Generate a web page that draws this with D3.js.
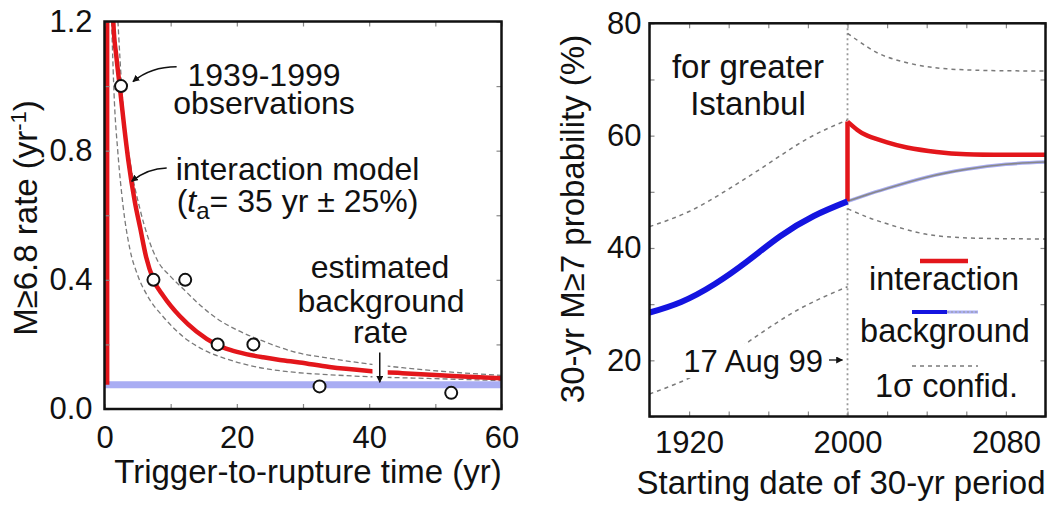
<!DOCTYPE html>
<html><head><meta charset="utf-8">
<script src="https://cdn.jsdelivr.net/npm/d3@7"></script>
<style>
body{margin:0;background:#fff;}
svg{display:block;font-family:"Liberation Sans",Arial,Helvetica,sans-serif;}
</style></head><body>
<svg id="chart" width="1054" height="505"></svg>
<script>
// ---------- Left panel data ----------
const obsT    = [2.5, 7.4, 12.2, 17.1, 22.5, 32.5, 52.4];
const obsRate = [1.0, 0.4, 0.4, 0.2, 0.2, 0.07, 0.05];

const modelT    = [1.2, 1.33, 1.8, 2.3, 3.0, 3.6, 4.6, 5.4, 6.3, 7.4, 8.9, 11.4, 13.9, 16.9, 19, 21.4, 24, 26.5, 29.5, 34, 40, 45, 50, 55, 60];
const modelRate = [1.27, 1.2, 1.09, 1.0, 0.87, 0.77, 0.64, 0.56, 0.47, 0.40, 0.35, 0.287, 0.24, 0.20, 0.183, 0.17, 0.16, 0.152, 0.144, 0.13, 0.118, 0.111, 0.105, 0.1, 0.095];
const jumpT    = [0.4, 0.4];
const jumpRate = [0.075, 1.3];

const upperT    = [1.9, 2.8, 4, 5.35, 6.6, 8, 10, 12, 14, 17, 20, 24, 29, 34, 39, 45, 52, 60];
const upperRate = [1.25, 0.94, 0.75, 0.62, 0.53, 0.46, 0.41, 0.37, 0.33, 0.28, 0.245, 0.21, 0.175, 0.157, 0.142, 0.128, 0.115, 0.104];
const lowerT    = [1.0, 1.5, 2.0, 2.8, 3.85, 5, 6.5, 8.9, 12, 15, 18.9, 23, 29, 35, 40, 50, 60];
const lowerRate = [1.25, 0.95, 0.8, 0.63, 0.494, 0.415, 0.35, 0.285, 0.222, 0.183, 0.152, 0.13, 0.113, 0.105, 0.1, 0.094, 0.088];

const bgT    = [0, 60];
const bgRate = [0.075, 0.075];

const leftXTicks = [0, 10, 20, 30, 40, 50, 60];
const leftXLabels = [0, 20, 40, 60];
const leftYTicks = [0, 0.2, 0.4, 0.6, 0.8, 1.0, 1.2];
const leftYLabels = [0, 0.4, 0.8, 1.2];

// ---------- Right panel data ----------
const bgYearsA = [1900, 1916, 1933, 1950, 1966, 1983, 2000];
const bgProbA  = [28.5, 30.4, 33.6, 37.8, 42.1, 45.7, 48.3];
const bgYearsB = [2000, 2010, 2020, 2040, 2060, 2080, 2100];
const bgProbB  = [48.3, 49.5, 50.6, 52.6, 54.0, 54.9, 55.3];

const interJumpYears = [2000, 2000];
const interJumpProb  = [48.3, 62.5];
const interYears = [2000, 2005, 2010, 2020, 2030, 2045, 2060, 2080, 2100];
const interProb  = [62.5, 61.0, 60.0, 58.8, 57.9, 57.1, 56.7, 56.6, 56.6];

const confUpYearsA = [1900, 1920, 1940, 1960, 1980, 2000];
const confUpProbA  = [43.8, 46.5, 50.5, 55.0, 59.5, 62.8];
const confLoYearsA = [1900, 1925, 1950, 1975, 2000];
const confLoProbA  = [14.0, 17.7, 23.3, 29.0, 33.1];
const confUpYearsB = [2000, 2010, 2020, 2035, 2050, 2070, 2100];
const confUpProbB  = [78.2, 75.8, 74.0, 72.6, 71.9, 71.6, 71.5];
const confLoYearsB = [2000, 2010, 2020, 2035, 2050, 2070, 2100];
const confLoProbB  = [47.0, 45.5, 44.3, 42.8, 42.0, 41.7, 41.6];

const quakeYear = 2000;

const rightXTicks = [1900, 1920, 1940, 1960, 1980, 2000, 2020, 2040, 2060, 2080, 2100];
const rightXLabels = [1920, 2000, 2080];
const rightYTicks = [10, 20, 30, 40, 50, 60, 70, 80];
const rightYLabels = [20, 40, 60, 80];

// ---------- helpers ----------
const zip = (a, b) => a.map((v, i) => [v, b[i]]);
const svg = d3.select('#chart');
const RED = '#e3161b', BLUE = '#1414e0', LIGHTBLUE = '#a9adf3', DASH = '#7a7a7a';

const defs = svg.append('defs');
defs.append('marker').attr('id', 'arr').attr('viewBox', '0 0 10 10')
  .attr('refX', 9).attr('refY', 5).attr('markerWidth', 7).attr('markerHeight', 7)
  .attr('markerUnits', 'userSpaceOnUse').attr('orient', 'auto')
  .append('path').attr('d', 'M0,0 L10,5 L0,10 z').attr('fill', '#111');

function axes(g, x, y, xT, yT, xL, yL, fx, fy, padX, padY, fs) {
  const [x0, x1] = x.range(), [y0, y1] = y.range();
  const tick = sel => { sel.select('.domain').remove(); sel.selectAll('line').attr('stroke', '#888').attr('stroke-width', 1.2); };
  g.append('g').attr('transform', `translate(0,${y0})`).call(d3.axisBottom(x).tickValues(xT).tickSize(-5).tickFormat('')).call(tick);
  g.append('g').attr('transform', `translate(0,${y1})`).call(d3.axisTop(x).tickValues(xT).tickSize(-5).tickFormat('')).call(tick);
  g.append('g').attr('transform', `translate(${x0},0)`).call(d3.axisLeft(y).tickValues(yT).tickSize(-5).tickFormat('')).call(tick);
  g.append('g').attr('transform', `translate(${x1},0)`).call(d3.axisRight(y).tickValues(yT).tickSize(-5).tickFormat('')).call(tick);
  const lab = sel => { sel.select('.domain').remove(); sel.selectAll('line').remove();
    sel.attr('font-size', null).attr('font-family', null);
    sel.selectAll('text').attr('font-size', fs).attr('fill', '#111'); };
  g.append('g').attr('transform', `translate(0,${y0})`).call(d3.axisBottom(x).tickValues(xL).tickSize(0).tickPadding(padX).tickFormat(fx)).call(lab);
  g.append('g').attr('transform', `translate(${x0},0)`).call(d3.axisLeft(y).tickValues(yL).tickSize(0).tickPadding(padY).tickFormat(fy)).call(lab);
}

// ================= LEFT PANEL =================
const xL = d3.scaleLinear([0, 60], [104.5, 501.5]);
const yL = d3.scaleLinear([0, 1.2], [409, 21.5]);
defs.append('clipPath').attr('id', 'clipL').append('rect')
  .attr('x', xL(0)).attr('y', yL(1.2)).attr('width', xL(60) - xL(0)).attr('height', yL(0) - yL(1.2));
const gL = svg.append('g');
const lineL = d3.line().x(d => xL(d[0])).y(d => yL(d[1]));
const curveL = d3.line().x(d => xL(d[0])).y(d => yL(d[1])).curve(d3.curveMonotoneX);
const pL = gL.append('g').attr('clip-path', 'url(#clipL)');

pL.append('path').attr('d', lineL(zip(bgT, bgRate))).attr('fill', 'none').attr('stroke', LIGHTBLUE).attr('stroke-width', 7);
pL.append('path').attr('d', curveL(zip(upperT, upperRate))).attr('fill', 'none').attr('stroke', DASH).attr('stroke-width', 1.3).attr('stroke-dasharray', '5,3');
pL.append('path').attr('d', curveL(zip(lowerT, lowerRate))).attr('fill', 'none').attr('stroke', DASH).attr('stroke-width', 1.3).attr('stroke-dasharray', '5,3');
pL.append('path').attr('d', lineL(zip(jumpT, jumpRate))).attr('fill', 'none').attr('stroke', RED).attr('stroke-width', 4.5);
pL.append('path').attr('d', curveL(zip(modelT, modelRate))).attr('fill', 'none').attr('stroke', RED).attr('stroke-width', 4.5);

// knock-out gap and arrow for background rate
pL.append('rect').attr('x', xL(40.5)).attr('y', yL(0.145)).attr('width', xL(42.8) - xL(40.5)).attr('height', yL(0.095) - yL(0.145)).attr('fill', '#fff');
gL.append('line').attr('x1', xL(41.6)).attr('x2', xL(41.6)).attr('y1', yL(0.175)).attr('y2', yL(0.083))
  .attr('stroke', '#111').attr('stroke-width', 1.5).attr('marker-end', 'url(#arr)');

pL.selectAll('circle.obs').data(zip(obsT, obsRate)).join('circle').attr('class', 'obs')
  .attr('cx', d => xL(d[0])).attr('cy', d => yL(d[1])).attr('r', 6)
  .attr('fill', '#fff').attr('stroke', '#111').attr('stroke-width', 2);

axes(gL, xL, yL, leftXTicks, leftYTicks, leftXLabels, leftYLabels, d3.format('d'), d3.format('.1f'), 17, 12, 31);
gL.append('rect').attr('x', xL(0)).attr('y', yL(1.2)).attr('width', xL(60) - xL(0)).attr('height', yL(0) - yL(1.2))
  .attr('fill', 'none').attr('stroke', '#111').attr('stroke-width', 2.5);

// annotations (left)
const tL = (x, y, s, anchor = 'middle', fs = 32) => gL.append('text').attr('x', x).attr('y', y).attr('text-anchor', anchor).attr('font-size', fs).attr('fill', '#111').text(s);
tL(264, 86, '1939-1999');
tL(264, 114, 'observations');
tL(297.5, 180, 'interaction model');
const ta = gL.append('text').attr('x', 297.5).attr('y', 212).attr('text-anchor', 'middle').attr('font-size', 32).attr('fill', '#111');
ta.append('tspan').text('(');
ta.append('tspan').attr('font-style', 'italic').text('t');
ta.append('tspan').attr('font-size', 24).attr('dy', 7).text('a');
ta.append('tspan').attr('dy', -7).text('= 35 yr ± 25%)');
tL(380, 278, 'estimated');
tL(381, 312, 'background');
tL(380.5, 343, 'rate');

gL.append('path').attr('d', `M${xL(10.9)},${yL(1.06)} Q${xL(7)},${yL(1.06)} ${xL(4.3)},${yL(1.014)}`)
  .attr('fill', 'none').attr('stroke', '#111').attr('stroke-width', 1.5).attr('marker-end', 'url(#arr)');
gL.append('path').attr('d', `M${xL(9.4)},${yL(0.746)} Q${xL(6.5)},${yL(0.745)} ${xL(4.1)},${yL(0.705)}`)
  .attr('fill', 'none').attr('stroke', '#111').attr('stroke-width', 1.5).attr('marker-end', 'url(#arr)');

gL.append('text').attr('x', 308).attr('y', 483).attr('text-anchor', 'middle').attr('font-size', 33).attr('fill', '#111').text('Trigger-to-rupture time (yr)');
const yt = gL.append('text').attr('transform', 'translate(37,218) rotate(-90)').attr('text-anchor', 'middle').attr('font-size', 33).attr('fill', '#111');
yt.append('tspan').text('M≥6.8 rate (yr');
yt.append('tspan').attr('font-size', 22).attr('dy', -11).text('-1');
yt.append('tspan').attr('dy', 11).text(')');

// ================= RIGHT PANEL =================
const xR = d3.scaleLinear([1900, 2100], [649.5, 1045.5]);
const yR = d3.scaleLinear([10, 80], [416.5, 23.3]);
defs.append('clipPath').attr('id', 'clipR').append('rect')
  .attr('x', xR(1900)).attr('y', yR(80)).attr('width', xR(2100) - xR(1900)).attr('height', yR(10) - yR(80));
const gR = svg.append('g');
const lineR = d3.line().x(d => xR(d[0])).y(d => yR(d[1]));
const curveR = d3.line().x(d => xR(d[0])).y(d => yR(d[1])).curve(d3.curveNatural);
const pR = gR.append('g').attr('clip-path', 'url(#clipR)');

pR.append('line').attr('x1', xR(quakeYear)).attr('x2', xR(quakeYear)).attr('y1', yR(80)).attr('y2', yR(10))
  .attr('stroke', '#999').attr('stroke-width', 1.8).attr('stroke-dasharray', '2,3');
[[confUpYearsA, confUpProbA], [confLoYearsA, confLoProbA], [confUpYearsB, confUpProbB], [confLoYearsB, confLoProbB]].forEach(([a, b]) =>
  pR.append('path').attr('d', curveR(zip(a, b))).attr('fill', 'none').attr('stroke', DASH).attr('stroke-width', 1.5).attr('stroke-dasharray', '4,4'));

pR.append('path').attr('d', curveR(zip(bgYearsB, bgProbB))).attr('fill', 'none').attr('stroke', LIGHTBLUE).attr('stroke-width', 3.5);
pR.append('path').attr('d', curveR(zip(bgYearsB, bgProbB))).attr('fill', 'none').attr('stroke', '#888').attr('stroke-width', 1.6);
pR.append('path').attr('d', lineR(zip(interJumpYears, interJumpProb))).attr('fill', 'none').attr('stroke', RED).attr('stroke-width', 4.5);
pR.append('path').attr('d', curveR(zip(interYears, interProb))).attr('fill', 'none').attr('stroke', RED).attr('stroke-width', 4.5);
pR.append('path').attr('d', curveR(zip(bgYearsA, bgProbA))).attr('fill', 'none').attr('stroke', BLUE).attr('stroke-width', 6);

axes(gR, xR, yR, rightXTicks, rightYTicks, rightXLabels, rightYLabels, d3.format('d'), d3.format('d'), 14, 8, 31);
gR.append('rect').attr('x', xR(1900)).attr('y', yR(80)).attr('width', xR(2100) - xR(1900)).attr('height', yR(10) - yR(80))
  .attr('fill', 'none').attr('stroke', '#111').attr('stroke-width', 2.5);

const tR = (x, y, s, fs = 33) => gR.append('text').attr('x', x).attr('y', y).attr('text-anchor', 'middle').attr('font-size', fs).attr('fill', '#111').text(s);
tR(748, 78, 'for greater');
tR(748, 115, 'Istanbul');

// 17 Aug 99 label with white backing
gR.append('rect').attr('x', 676).attr('y', 344).attr('width', 150).attr('height', 34).attr('fill', '#fff');
gR.append('text').attr('x', 823).attr('y', 372).attr('text-anchor', 'end').attr('font-size', 31).attr('fill', '#111').text('17 Aug 99');
gR.append('line').attr('x1', 829).attr('x2', xR(quakeYear) - 5).attr('y1', 360).attr('y2', 360)
  .attr('stroke', '#111').attr('stroke-width', 1.3).attr('marker-end', 'url(#arr)');

// legend
gR.append('line').attr('x1', 920).attr('x2', 968).attr('y1', 261).attr('y2', 261).attr('stroke', RED).attr('stroke-width', 4.5);
tR(944, 290, 'interaction', 32.5);
gR.append('line').attr('x1', 947).attr('x2', 978).attr('y1', 312).attr('y2', 312).attr('stroke', LIGHTBLUE).attr('stroke-width', 3);
gR.append('line').attr('x1', 947).attr('x2', 978).attr('y1', 312).attr('y2', 312).attr('stroke', '#999').attr('stroke-width', 1.2).attr('stroke-dasharray', '2,2');
gR.append('line').attr('x1', 912).attr('x2', 947).attr('y1', 312).attr('y2', 312).attr('stroke', BLUE).attr('stroke-width', 4);
tR(945, 342, 'background', 32.5);
gR.append('line').attr('x1', 912).attr('x2', 978).attr('y1', 366).attr('y2', 366).attr('stroke', DASH).attr('stroke-width', 1.5).attr('stroke-dasharray', '4,4');
tR(946.5, 397, '1σ confid.', 32.5);

gR.append('text').attr('x', 841).attr('y', 494).attr('text-anchor', 'middle').attr('font-size', 33).attr('fill', '#111').text('Starting date of 30-yr period');
gR.append('text').attr('transform', 'translate(584,219) rotate(-90)').attr('text-anchor', 'middle').attr('font-size', 33).attr('fill', '#111').text('30-yr M≥7 probability (%)');
</script>
</body></html>
